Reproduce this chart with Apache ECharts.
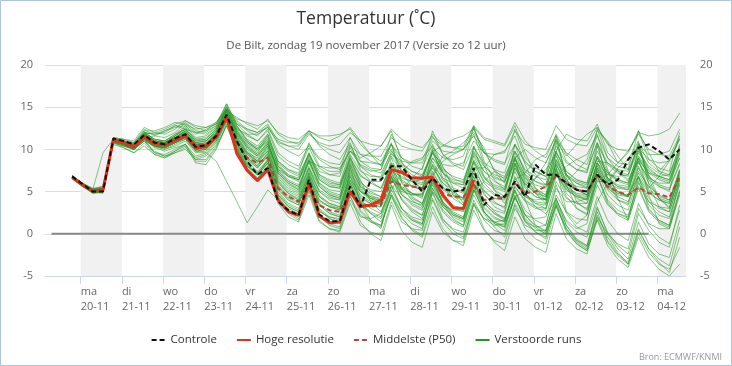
<!DOCTYPE html>
<html><head><meta charset="utf-8">
<script src="https://cdn.jsdelivr.net/npm/echarts@6/dist/echarts.min.js"></script>
<style>html,body{margin:0;padding:0;background:#fff}#c{width:732px;height:366px}</style>
</head><body><div id="c"></div>
<script>
// time axis: hours since 19-11-2017 00:00 (local)
const startHour = 19, stepHours = 6;
const dayTicks = [24,48,72,96,120,144,168,192,216,240,264,288,312,336,360];
const dayNames = ['ma','di','wo','do','vr','za','zo','ma','di','wo','do','vr','za','zo','ma'];
const dayDates = ['20-11','21-11','22-11','23-11','24-11','25-11','26-11','27-11','28-11','29-11','30-11','01-12','02-12','03-12','04-12'];
const shadedDays = [[24,48],[72,96],[120,144],[168,192],[216,240],[264,288],[312,336],[360,384]];
const zeroLine = [[7,0],[355,0]];

const controle = [6.8,5.9,5.0,5.0,11.3,11.0,10.6,11.7,10.8,10.6,11.3,11.8,10.3,10.5,11.6,14.1,
 11.0,8.6,7.0,7.8,3.8,2.8,2.2,6.4,2.3,1.5,1.5,5.6,3.2,6.4,6.4,8.0,8.0,6.4,5.0,6.6,5.4,5.0,5.2,7.8,
 3.4,4.6,4.4,6.2,4.4,8.2,7.0,7.0,6.0,5.2,5.0,7.0,5.8,6.4,8.8,10.2,10.6,9.8,8.8,10.0];
const hogeResolutie = [6.7,5.8,5.1,5.2,11.1,10.8,10.3,11.5,10.7,10.5,11.1,11.6,10.2,10.3,11.5,13.9,
 9.5,7.5,6.3,7.6,4.0,2.6,2.2,6.0,2.1,1.3,1.4,5.0,3.2,3.4,4.0,7.6,7.3,6.6,6.6,6.7,4.6,3.1,3.0,6.4];
const middelste = [6.7,5.8,5.1,5.2,11.1,10.8,10.4,11.6,10.8,10.6,11.2,11.7,10.5,10.6,11.7,14.0,
 10.8,9.0,8.4,9.0,5.4,4.4,3.8,5.4,3.4,2.8,2.6,5.0,3.6,3.2,3.4,6.2,5.8,5.6,5.4,6.6,4.8,4.4,4.4,5.8,
 4.0,4.2,4.2,6.0,4.8,5.0,5.6,6.8,6.0,5.2,5.0,7.0,5.6,5.0,4.6,5.5,4.8,4.7,4.3,6.8];

const m01=[6.9,6.0,5.2,5.4,11.3,11.0,10.6,11.9,11.2,11.0,11.8,12.4,11.0,11.2,12.4,14.6,13.8,13.0,12.4,13.6,11.8,11.0,10.6,12.2,11.4,11.0,11.6,12.6,11.0,9.4,8.0,10.6,7.2,5.6,6.8,9.8,10.4,11.2,11.6,12.4,9.8,7.6,6.4,8.2,5.8,6.6,8.4,11.0,9.2,10.6,11.8,12.6,10.8,8.4,9.6,12.2,9.6,7.4,8.8,11.2];
const m02=[6.6,5.7,4.8,4.9,10.9,10.6,10.0,11.2,10.3,10.0,10.4,11.0,9.6,9.8,11.0,13.5,10.4,8.2,7.0,8.4,4.6,3.2,2.6,6.2,2.8,1.8,1.4,5.0,3.4,2.6,2.0,5.8,4.2,3.0,2.2,6.0,3.6,1.8,1.0,5.4,2.6,1.2,0.4,4.4,1.6,0.2,-0.6,3.8,1.0,-0.8,-1.6,3.0,0.2,-1.4,-2.4,2.4,0.4,-1.0,-1.6,3.4];
const m03=[6.7,5.8,5.0,5.1,11.0,10.6,10.2,11.2,10.4,10.2,10.8,11.2,9.8,9.6,8.6,6.2,3.8,1.3,3.2,5.2,4.0,3.0,2.4,5.4,3.8,3.2,3.0,6.4,5.0,4.4,4.2,8.4,7.2,6.4,6.0,9.0,7.6,6.8,6.4,9.6,8.0,7.0,6.6,9.8,7.4,6.2,5.6,8.8,6.8,6.0,5.4,9.2,7.2,6.4,6.0,9.6,8.0,7.2,6.8,9.8];
const m04=[6.8,5.9,5.2,5.3,11.2,10.9,10.4,11.6,10.8,10.6,11.2,11.8,10.4,10.4,11.6,14.0,10.2,8.0,7.0,8.2,4.8,3.4,2.8,6.4,2.6,2.0,1.8,5.6,3.6,3.2,3.6,7.4,6.8,6.2,5.8,8.0,6.0,4.8,4.2,7.6,5.6,4.6,4.2,7.8,5.8,4.8,4.4,8.6,6.4,5.2,4.6,8.4,6.0,5.0,4.4,7.4,5.6,4.6,4.0,7.2];
const m05=[6.5,5.6,4.9,5.0,11.0,10.8,10.4,12.0,11.8,12.2,12.6,12.8,11.8,12.4,13.0,14.8,13.2,12.2,11.6,12.8,10.6,9.8,9.2,10.4,8.8,8.0,7.6,9.8,8.2,7.6,7.2,9.6,8.0,7.0,6.4,9.8,7.8,6.6,6.0,10.2,8.4,7.6,7.2,10.6,8.6,7.4,6.8,11.2,9.6,8.8,8.2,11.6,9.0,7.4,6.2,8.6,6.0,4.2,3.2,6.8];
const m06=[6.6,5.8,5.2,5.6,10.8,10.2,9.6,10.8,9.4,9.0,9.6,10.0,8.8,9.2,10.6,13.2,9.6,7.4,6.2,7.6,4.2,2.6,1.8,5.2,2.0,1.0,0.6,4.4,2.2,1.4,1.0,4.6,2.4,1.2,0.6,4.8,2.6,1.4,0.8,4.6,2.4,0.8,-0.4,3.4,0.6,-0.6,-1.2,3.2,0.6,-1.0,-1.8,2.2,-0.4,-2.2,-3.6,0.4,-1.8,-3.4,-4.6,-0.4];
const m07=[6.9,6.0,5.3,5.2,11.4,11.2,10.8,12.2,11.0,10.8,11.4,12.2,10.8,11.0,12.0,15.2,12.0,10.4,9.6,11.6,8.0,6.8,6.2,9.6,7.0,6.4,6.0,9.8,9.0,9.6,10.4,12.2,8.6,6.4,5.2,7.0,9.2,9.8,10.8,12.0,10.2,7.4,6.0,9.6,6.8,4.8,3.6,8.8,6.2,7.4,8.8,12.2,11.0,9.2,7.6,10.4,6.4,4.2,3.8,7.4];
const m08=[6.7,5.9,5.1,5.0,11.0,10.7,10.2,11.4,10.6,10.4,11.0,11.4,10.0,10.2,11.2,13.6,11.0,9.0,8.0,9.4,6.2,4.8,4.0,7.2,4.4,3.4,3.0,6.8,3.8,2.4,1.4,4.4,1.8,0.6,-0.2,4.0,1.4,0.0,-0.6,3.6,1.8,1.0,1.2,5.6,4.0,3.2,3.0,7.6,5.4,4.6,4.4,8.0,6.0,5.4,5.2,8.8,7.2,6.4,6.0,9.0];
const m09=[6.8,6.0,5.3,5.6,11.1,10.8,10.6,11.8,12.0,12.4,13.0,13.4,12.8,12.6,13.2,15.0,12.6,11.6,11.0,12.4,9.6,8.6,8.0,10.6,9.0,8.4,8.2,10.6,8.0,7.0,6.6,9.2,7.4,6.6,6.4,10.2,9.0,8.8,9.2,12.6,11.2,10.8,10.4,12.8,9.6,7.0,5.8,9.8,11.8,11.2,11.0,13.0,9.6,8.4,9.8,12.0,11.6,11.8,12.4,14.3];
const m10=[6.6,5.8,5.0,5.2,11.2,10.8,10.2,11.6,10.8,10.4,11.0,11.6,10.0,10.2,11.6,14.2,11.4,9.4,8.6,9.8,6.8,5.6,5.0,7.8,5.0,4.0,3.6,7.0,4.6,3.8,3.6,7.0,5.6,4.8,4.4,7.4,5.2,4.4,4.0,7.2,4.6,3.6,3.2,6.6,4.4,3.6,3.4,7.4,5.2,4.4,4.0,7.8,5.4,4.4,3.8,6.8,4.8,4.0,3.6,6.6];
const m11=[6.7,5.8,5.2,5.4,11.2,10.8,10.2,11.2,9.6,9.2,9.8,10.4,8.4,8.2,10.0,13.0,10.8,9.6,9.0,10.4,7.6,6.8,6.4,8.6,8.0,7.8,7.8,9.8,8.6,8.4,8.2,10.0,7.6,6.2,5.4,8.2,5.6,4.2,3.4,6.8,4.0,2.6,1.8,5.2,2.8,1.6,1.0,5.8,2.4,0.8,0.2,4.4,1.6,0.0,-0.8,3.6,1.0,-0.4,-1.2,2.8];
const m12=[6.9,5.9,5.0,4.8,10.8,10.4,10.0,11.4,10.6,10.4,11.2,12.0,10.6,10.6,11.8,14.4,12.2,10.8,10.0,11.0,7.2,6.0,5.4,8.4,5.8,4.8,4.4,8.2,5.4,4.2,3.6,7.8,5.2,6.6,7.8,10.6,8.0,5.4,3.6,8.4,5.2,3.8,3.0,8.2,4.8,3.2,2.4,4.0,1.6,0.6,1.2,7.0,3.8,2.4,1.8,6.6,3.8,2.6,2.0,6.0];
const m13=[6.5,5.6,4.8,5.0,11.0,10.6,10.0,11.6,11.0,10.8,11.4,12.2,10.8,10.6,11.8,14.2,12.4,11.8,11.8,12.6,11.2,10.8,10.8,12.2,10.4,9.4,8.8,10.8,7.6,6.2,5.4,8.2,5.4,4.0,3.2,6.4,3.6,2.2,1.6,5.2,2.6,1.4,1.0,4.2,2.2,1.8,2.0,6.2,4.2,3.6,3.6,7.4,5.4,4.6,4.4,8.4,6.6,6.0,6.0,9.0];
const m14=[6.8,6.0,5.4,5.6,11.2,10.6,10.0,11.2,10.4,10.0,10.6,11.2,9.8,10.0,11.4,13.8,10.8,8.6,7.4,8.8,5.4,4.0,3.4,6.8,3.4,2.4,2.0,6.0,3.8,3.2,3.2,6.8,5.2,4.6,4.6,7.8,6.0,5.2,4.8,8.6,6.2,5.4,5.0,8.4,6.0,4.8,4.0,7.2,4.4,3.0,2.4,6.8,3.6,2.2,1.6,5.6,2.8,1.6,1.0,5.2];
const m15=[6.6,5.7,5.0,5.1,11.0,10.8,10.4,11.8,11.0,10.8,11.6,12.4,11.2,11.4,12.4,14.8,12.8,11.2,10.4,11.8,8.4,7.4,6.8,9.6,6.4,5.6,5.4,9.0,6.8,6.2,6.2,9.4,8.6,8.4,8.8,11.4,10.4,10.2,10.4,12.8,8.6,6.4,5.2,9.0,10.0,9.0,8.4,11.2,7.0,5.2,4.6,8.6,8.4,7.6,7.4,10.2,8.8,8.4,8.6,11.2];
const m16=[6.7,5.9,5.1,5.2,11.1,10.8,10.4,11.6,10.8,10.6,11.2,11.8,10.4,10.6,11.8,14.2,11.6,9.8,8.8,10.2,7.0,5.8,5.2,8.0,5.6,4.6,4.2,7.8,5.6,4.8,4.4,7.6,5.4,4.2,3.6,6.8,4.2,3.0,2.6,6.0,3.6,2.4,1.8,5.0,2.2,0.8,0.0,3.6,0.6,-0.8,-1.4,2.6,-0.8,-2.4,-3.4,0.6,-1.8,-3.0,-3.8,0.8];
const m17=[6.6,5.8,5.0,5.0,10.8,10.4,10.0,11.0,9.6,9.4,10.0,10.6,9.2,9.6,11.0,13.4,9.8,7.6,6.4,7.8,3.6,2.0,1.4,4.6,1.4,0.6,0.4,4.0,2.0,1.8,2.4,6.4,5.0,4.6,4.8,8.2,6.6,6.0,5.8,9.4,7.4,6.6,6.2,9.8,7.6,6.8,6.4,10.4,8.4,7.6,7.4,10.8,8.4,7.4,7.0,10.0,7.8,6.8,6.4,9.4];
const m18=[6.8,5.8,5.0,5.2,11.2,11.0,10.6,11.8,11.0,10.8,11.4,12.0,10.6,10.8,12.0,14.6,12.6,11.0,10.2,11.4,8.6,7.6,7.0,9.4,7.0,6.2,5.8,8.8,6.2,5.0,4.4,7.2,4.6,3.4,2.8,6.2,3.6,2.4,1.8,5.6,3.0,1.8,1.4,5.6,3.8,3.0,2.8,7.0,5.2,4.4,4.2,8.4,6.4,5.6,5.4,9.2,7.4,6.6,6.2,9.6];
const m19=[6.7,5.8,5.1,5.2,11.0,10.6,10.2,11.4,10.4,10.2,10.8,11.4,10.2,10.4,11.6,13.8,10.6,8.4,7.2,8.6,5.0,3.6,3.0,6.0,3.0,2.0,1.6,5.2,2.6,1.4,0.8,4.6,2.0,0.4,-0.4,3.2,0.6,-0.8,-1.4,2.8,0.4,-0.8,-1.2,3.0,1.0,0.4,0.4,4.6,2.6,1.8,1.6,5.8,3.4,2.4,2.0,6.0,3.8,3.2,3.0,7.0];
const m20=[6.8,5.9,5.2,9.6,11.2,10.8,10.4,12.0,11.2,11.0,11.8,12.8,11.4,11.6,12.6,15.0,13.4,12.4,12.0,13.0,11.0,10.4,10.0,11.8,10.8,10.4,10.6,12.0,11.0,10.6,10.4,12.4,11.2,10.6,10.2,11.6,9.4,8.2,7.6,10.4,8.0,6.8,6.2,9.0,6.4,5.2,4.6,8.2,5.8,4.6,4.0,7.6,5.2,4.0,3.4,7.2,5.0,4.0,3.6,7.6];
const m21=[6.6,5.7,4.9,5.1,11.0,10.6,10.2,11.6,10.8,10.4,11.0,11.8,10.2,10.4,11.4,14.0,11.0,9.0,8.0,9.6,6.2,5.0,4.4,7.4,4.6,3.6,3.2,7.2,5.0,4.2,4.0,7.6,6.2,5.6,5.4,9.0,7.2,6.4,6.2,9.8,7.4,6.2,5.6,8.8,6.2,5.0,4.4,8.4,5.6,4.2,3.6,7.4,4.6,3.4,2.8,6.8,4.2,3.0,2.6,6.4];
const m22=[6.9,6.0,5.2,5.0,11.2,10.8,10.2,11.2,10.4,10.2,10.8,11.6,10.4,10.2,11.4,13.6,10.4,8.2,7.0,8.8,4.4,2.8,2.2,5.6,2.2,1.2,0.8,8.0,3.6,1.6,0.6,5.8,3.0,1.6,1.0,6.6,3.8,2.4,1.8,7.6,4.8,3.2,2.6,8.4,5.6,4.4,4.0,9.8,7.4,6.4,6.0,10.6,8.2,7.2,6.8,10.8,8.4,7.4,7.0,10.4];
const m23=[6.7,5.8,5.0,5.1,11.1,10.8,10.4,11.6,10.8,10.6,11.2,11.8,10.6,10.6,11.8,14.2,11.8,10.2,9.4,10.8,7.4,6.2,5.6,8.6,6.0,5.0,4.6,8.2,5.6,4.4,3.8,7.4,4.8,3.6,3.0,6.4,3.8,2.6,2.0,5.8,3.2,2.0,1.4,4.4,1.8,0.6,0.0,3.4,0.4,-1.2,-2.0,1.6,-1.4,-3.0,-4.0,-0.4,-2.8,-4.2,-5.0,-3.6];
const m24=[6.8,5.9,5.1,5.3,11.0,10.8,10.6,12.2,12.2,12.6,13.2,13.0,12.4,12.6,13.0,15.4,13.0,11.8,11.0,12.2,9.2,8.2,7.6,10.2,7.8,7.0,6.8,10.2,8.0,7.4,7.6,10.6,9.0,8.4,8.4,11.0,9.8,9.6,10.0,12.8,11.4,11.0,10.6,13.2,11.0,9.8,9.0,11.8,9.4,8.2,7.6,10.8,6.2,4.0,3.6,8.0,5.4,6.8,8.6,11.4];
const m25=[6.6,5.8,5.1,5.0,10.9,10.4,10.0,11.0,10.4,10.2,10.8,11.4,10.0,10.2,11.4,13.6,10.2,7.8,6.6,8.0,4.0,2.4,1.6,5.0,1.6,0.6,0.2,3.6,1.0,0.2,-0.2,3.8,1.4,0.6,0.4,5.0,3.4,2.8,2.8,7.2,5.0,4.2,4.0,7.8,5.4,4.4,4.0,7.6,4.8,3.6,3.0,6.8,4.0,2.8,2.2,6.2,3.4,2.2,1.8,5.8];
const m26=[6.7,5.9,5.2,5.4,11.2,10.8,10.4,11.6,10.8,10.6,11.4,12.2,10.8,11.0,12.2,14.6,12.2,10.4,9.4,10.8,7.6,6.4,5.8,8.8,6.4,5.6,5.4,8.6,6.4,3.8,2.6,5.2,7.2,8.6,9.0,10.4,7.4,4.6,3.4,7.8,7.8,9.4,9.8,11.6,8.2,5.4,4.0,8.0,2.6,1.2,2.2,6.4,7.0,8.4,8.2,10.6,7.0,4.2,3.0,7.4];
const m27=[6.8,5.9,5.1,5.2,11.1,10.6,10.0,11.2,10.2,9.8,10.2,10.6,8.8,8.8,10.4,12.8,9.8,8.0,7.2,8.6,5.6,4.4,3.8,6.8,4.0,3.2,2.8,6.4,4.0,3.0,2.4,5.6,3.0,1.8,1.2,4.2,1.6,0.6,0.2,4.0,1.6,0.4,0.0,3.6,1.4,0.8,1.0,5.4,3.8,3.8,4.2,8.4,7.0,6.8,7.0,10.6,9.4,9.4,9.8,12.4];
const m28=[6.6,5.7,5.0,5.2,11.2,11.0,10.8,12.4,11.6,11.4,12.0,13.2,12.2,12.0,12.8,14.8,13.6,13.2,12.8,13.4,12.0,11.4,11.2,12.2,11.6,11.6,11.8,12.4,10.6,9.4,8.6,10.6,8.4,7.4,6.8,9.6,7.2,6.2,5.8,9.2,6.8,5.8,5.4,9.0,7.0,6.2,5.8,9.6,7.4,6.4,6.0,9.8,7.4,6.4,6.0,9.8,7.6,6.8,6.4,9.8];
const m29=[6.7,5.8,5.0,5.0,11.0,10.6,10.2,11.4,10.6,10.2,10.8,11.4,9.8,10.0,11.2,13.8,11.2,9.4,8.4,9.8,6.4,5.2,4.6,7.6,5.0,4.2,4.0,7.6,5.2,4.2,3.6,6.8,4.0,2.6,1.8,5.0,1.8,0.4,-0.4,3.6,0.6,-1.0,-2.0,2.0,-0.6,-1.6,-2.2,2.4,-0.6,-1.8,-2.4,2.0,0.0,-1.2,-1.8,3.0,1.2,0.6,0.6,4.6];
const m30=[6.8,6.0,5.3,5.4,11.3,10.9,10.4,11.8,11.0,10.8,11.4,11.8,10.4,10.6,11.8,14.4,11.8,10.0,9.2,10.6,7.8,6.8,6.4,9.2,6.8,6.0,5.8,9.4,7.4,6.8,6.8,9.8,8.2,7.4,7.0,9.6,7.2,6.0,5.4,8.6,6.0,4.8,4.2,7.4,4.8,3.6,3.0,6.8,8.0,8.8,9.4,11.8,7.6,4.2,1.6,5.4,2.6,1.4,0.8,5.0];
const m31=[6.8,5.9,5.1,5.3,11.4,11.2,11.0,12.6,12.0,11.8,12.4,13.4,12.6,12.2,12.8,15.4,12.8,11.0,10.0,11.2,8.2,7.0,6.4,9.0,6.6,5.8,5.6,9.0,7.0,6.0,5.4,8.4,6.4,5.6,5.2,8.6,6.4,5.4,5.0,8.8,6.6,5.6,5.2,8.8,6.6,5.8,5.4,9.2,7.0,6.2,5.8,9.0,6.6,5.6,5.2,8.6,6.4,5.6,5.2,8.2];
const m32=[6.6,5.7,4.9,5.0,10.6,10.2,9.6,10.4,9.4,9.0,9.8,10.6,8.6,8.6,10.2,12.8,10.0,8.0,7.0,8.4,5.2,4.0,3.4,6.6,3.6,2.6,2.2,6.0,3.4,2.4,1.8,5.2,3.0,2.0,1.6,5.4,3.2,2.2,1.8,6.0,3.8,2.8,2.4,6.8,4.6,3.8,3.6,7.8,5.6,4.8,4.6,8.2,5.8,4.8,4.4,7.8,5.2,4.4,4.0,7.6];
const m33=[6.7,5.8,5.1,5.2,11.2,10.9,10.6,12.0,11.8,12.0,12.8,12.4,12.0,12.2,13.2,14.8,13.0,12.4,12.0,12.6,10.8,10.4,10.4,12.0,10.6,10.0,9.6,11.4,9.4,8.6,8.2,10.8,6.2,4.4,3.6,6.8,8.6,9.4,10.0,11.8,8.2,5.2,3.6,6.4,7.2,8.8,9.4,11.6,6.6,3.8,2.8,6.2,6.2,7.8,8.8,11.0,5.8,3.2,2.6,6.4];
const m34=[6.7,5.8,5.0,5.1,11.0,10.6,10.0,11.2,10.4,10.2,10.8,11.6,10.2,10.4,11.6,14.0,10.8,8.8,7.8,9.2,6.0,4.8,4.2,7.2,4.4,3.6,3.2,6.8,4.4,3.6,3.2,6.6,4.6,3.8,3.4,6.8,4.4,3.4,2.8,6.4,3.6,2.4,1.6,5.2,2.2,1.0,0.4,4.2,1.0,-0.6,-1.4,3.2,0.0,-1.8,-3.0,1.4,-1.2,-2.4,-2.8,1.6];
const m35=[6.9,6.0,5.2,5.2,11.2,10.8,10.4,11.8,11.0,10.8,11.6,12.4,11.0,11.0,12.2,14.6,11.6,9.6,8.6,10.4,7.2,6.0,5.2,8.8,5.6,4.6,4.2,9.2,5.8,4.6,4.0,9.0,6.0,4.8,4.2,10.0,6.6,5.0,4.2,10.4,6.8,5.2,4.4,10.6,7.0,5.4,4.6,10.8,7.0,5.4,4.6,10.4,6.6,5.0,4.4,10.2,6.8,5.6,5.0,10.6];
const m36=[6.7,5.8,5.1,5.1,11.1,10.8,10.4,11.6,10.8,10.6,11.2,11.8,10.4,10.6,11.8,14.2,11.2,9.2,8.2,9.4,5.8,4.6,4.0,7.0,4.0,3.2,2.8,6.2,4.2,3.6,3.6,6.6,5.4,4.8,4.6,7.2,5.4,4.6,4.2,6.8,2.6,1.2,0.8,4.4,5.0,6.6,7.6,9.4,5.8,3.0,2.2,7.8,5.6,4.8,4.6,6.8,3.0,1.6,1.0,6.6];
const m37=[6.6,5.8,5.1,5.4,11.0,10.6,10.2,11.4,11.6,12.2,12.8,13.0,12.0,11.8,12.6,14.4,12.0,10.6,9.8,11.0,8.0,7.0,6.6,9.4,7.4,7.0,7.2,10.4,9.4,9.2,9.2,11.4,10.4,10.0,9.8,11.8,10.6,10.2,10.0,11.6,9.6,8.8,8.4,10.6,8.4,7.4,6.8,9.8,7.0,6.0,5.6,9.0,6.6,5.8,5.6,9.0,7.2,6.8,7.0,10.2];
const m38=[6.8,5.9,5.1,5.2,11.1,10.6,10.0,11.0,9.8,9.2,9.6,10.2,9.0,9.4,10.8,13.4,10.0,7.8,6.6,8.0,4.6,3.2,2.6,5.8,2.8,1.8,1.2,4.6,1.4,0.0,-0.8,3.4,0.4,-1.0,-1.6,2.6,0.2,-0.8,-1.0,3.4,1.8,1.4,1.6,6.0,4.4,4.0,4.2,8.2,6.2,5.6,5.4,9.2,7.2,6.2,5.8,9.0,6.8,5.8,5.4,8.4];
const m39=[6.7,5.9,5.2,5.3,11.2,11.0,10.6,12.0,11.2,11.0,11.6,12.6,11.2,11.2,12.4,14.8,12.4,10.8,10.0,11.8,8.6,7.6,7.2,10.8,8.0,7.4,7.4,11.4,8.6,7.8,7.6,11.8,9.0,8.0,7.6,12.2,9.4,8.4,8.0,12.6,9.6,8.6,8.2,12.4,9.0,7.8,7.2,11.6,8.6,7.6,7.2,12.4,9.0,8.0,7.6,12.2,8.8,7.8,7.4,12.0];
const m40=[6.6,5.7,5.0,5.1,10.9,10.5,10.0,11.3,10.5,10.2,10.9,11.5,10.0,10.0,11.2,13.6,10.6,8.8,7.8,9.2,5.6,4.2,3.6,6.8,3.4,2.4,2.0,5.8,2.8,1.6,1.0,4.8,2.6,1.6,1.2,5.4,2.8,1.6,1.0,5.0,6.2,7.4,6.8,9.2,4.0,1.0,0.2,4.2,1.4,0.2,-0.4,3.8,6.0,7.6,6.4,9.0,4.6,1.2,0.6,5.0];
const m41=[6.7,5.8,5.0,5.0,11.1,10.7,10.2,11.5,10.7,10.4,11.0,11.7,10.3,10.4,11.6,14.0,11.4,9.6,8.6,10.0,6.6,5.4,4.8,7.8,5.2,4.4,4.0,7.4,5.0,4.0,3.4,6.8,4.0,2.8,2.2,5.8,3.2,2.0,1.4,5.2,2.6,1.4,0.8,4.6,1.4,0.2,-0.4,3.4,0.2,-1.2,-2.0,1.8,-1.0,-2.6,-3.6,0.0,-2.2,-3.6,-4.2,-1.6];
const m42=[6.8,5.9,5.2,5.3,11.3,11.0,10.6,11.8,11.0,10.8,11.4,12.0,10.6,10.8,12.0,14.6,12.0,10.2,9.2,10.6,7.4,6.2,5.6,8.6,6.0,5.2,5.0,8.4,6.0,5.2,5.0,8.2,6.6,6.2,6.4,9.6,8.2,8.0,8.4,11.0,9.6,9.4,9.6,12.2,10.6,10.2,10.0,12.8,11.2,10.6,10.4,12.6,10.6,10.0,9.8,11.8,10.0,9.4,9.2,11.6];
const verstoordeRuns = [m01,m02,m03,m04,m05,m06,m07,m08,m09,m10,m11,m12,m13,m14,m15,m16,m17,m18,m19,m20,m21,
  m22,m23,m24,m25,m26,m27,m28,m29,m30,m31,m32,m33,m34,m35,m36,m37,m38,m39,m40,m41,m42];

const xMin = 3.2, xMax = 376.7;
function pts(arr){ return arr.map((v,i)=>[startHour+stepHours*i, v]); }
function dayLabel(h){ const k = dayTicks.indexOf(h); return k<0 ? '' : dayNames[k]+'\n'+dayDates[k]; }

const chart = echarts.init(document.getElementById('c'), null, {renderer:'canvas'});
const FONT = 'Open Sans';
const GREEN = '#229722';
const series = [];
series.push({type:'line', name:'bands', data:[], silent:true, z:0,
  markArea:{silent:true, itemStyle:{color:'#f1f1f1'},
    data: shadedDays.map(d=>[{xAxis:d[0]},{xAxis:Math.min(d[1],xMax)}])}});
series.push({type:'line', name:'nul', data:zeroLine, symbol:'none', silent:true, z:1,
  lineStyle:{color:'#8a8a8a', width:2}});
verstoordeRuns.forEach(m=>series.push({type:'line', name:'Verstoorde runs', data:pts(m), symbol:'none', silent:true, z:2,
  color:GREEN, lineStyle:{color:GREEN, width:1, opacity:0.55}}));
series.push({type:'line', name:'Middelste (P50)', data:pts(middelste), symbol:'none', z:3,
  color:'#b4473a', lineStyle:{color:'#b4473a', width:2, type:[5,3]}});
series.push({type:'line', name:'Hoge resolutie', data:pts(hogeResolutie), symbol:'none', z:4,
  color:'#e0301e', lineStyle:{color:'#e0301e', width:3}});
series.push({type:'line', name:'Controle', data:pts(controle), symbol:'none', z:5,
  color:'#111', lineStyle:{color:'#111', width:2, type:[5,3]}});

chart.setOption({
  animation:false,
  backgroundColor:'#fff',
  textStyle:{fontFamily:FONT},
  title:{text:'Temperatuur (˚C)', subtext:'De Bilt, zondag 19 november 2017 (Versie zo 12 uur)',
    left:'center', top:5, itemGap:12,
    textStyle:{fontFamily:FONT, fontSize:17.5, fontWeight:'normal', color:'#333'},
    subtextStyle:{fontFamily:FONT, fontSize:11.5, color:'#555'}},
  legend:{top:329, left:'center', itemGap:19, itemWidth:14, itemHeight:10,
    itemStyle:{opacity:0, borderWidth:0},
    textStyle:{fontFamily:FONT, fontSize:11.5, color:'#333'},
    data:[{name:'Controle'},{name:'Hoge resolutie'},{name:'Middelste (P50)'},
      {name:'Verstoorde runs', lineStyle:{opacity:1, width:2}}]},
  grid:{left:45, right:46, top:65, bottom:90},
  xAxis:{type:'value', min:xMin, max:xMax,
    axisLine:{show:true, onZero:false, lineStyle:{color:'#ccd6eb', width:1}},
    axisTick:{show:true, length:8, lineStyle:{color:'#ccd6eb'}, customValues:dayTicks},
    axisLabel:{customValues:dayTicks, formatter:v=>dayLabel(v), align:'left', margin:8,
      color:'#666', fontSize:11, lineHeight:15, fontFamily:FONT},
    splitLine:{show:false}},
  yAxis:[
    {type:'value', min:-5, max:20, interval:5, position:'left',
      axisLine:{show:false}, axisTick:{show:false},
      axisLabel:{color:'#666', fontSize:11, margin:12, fontFamily:FONT},
      splitLine:{lineStyle:{color:'#dcdcdc', width:1}}},
    {type:'value', min:-5, max:20, interval:5, position:'right',
      axisLine:{show:false}, axisTick:{show:false},
      axisLabel:{color:'#666', fontSize:11, margin:14, fontFamily:FONT},
      splitLine:{show:false}}
  ],
  graphic:[
    {type:'text', right:10, bottom:4, style:{text:'Bron: ECMWF/KNMI', fill:'#999', font:'9px '+FONT}},
    {type:'rect', shape:{x:0.5, y:0.5, width:731, height:365}, style:{fill:null, stroke:'#a9c6de', lineWidth:1}, silent:true}
  ],
  series: series
});
</script></body></html>
